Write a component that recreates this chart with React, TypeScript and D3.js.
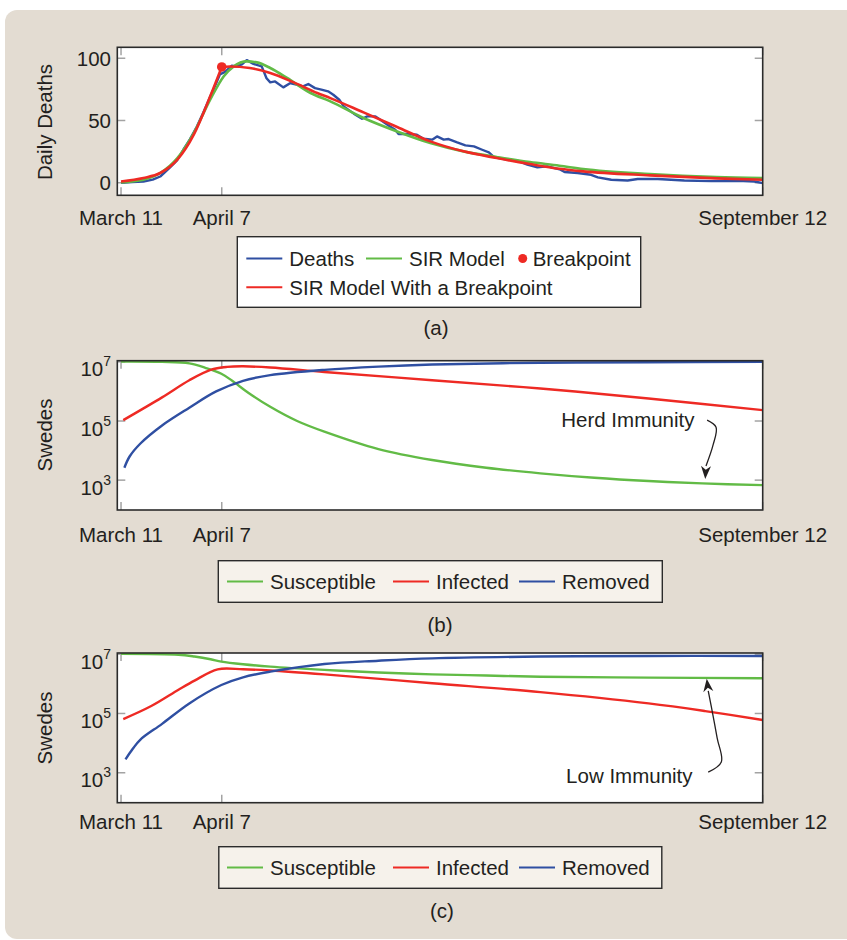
import React, { useEffect, useRef } from 'react';
import * as d3 from 'd3';

// x values are days since March 11
const tickDays = [0, 27, 172];
const tickLabels = ['March 11', 'April 7', 'September 12'];

// (a) daily deaths [day, deaths]
const deaths: [number, number][] = [
  [0, 0], [3, 0.5], [6, 1], [8.5, 2.5], [10.5, 5], [13, 12], [15, 18], [16.7, 26.5], [18.5, 35],
  [20.3, 45], [22, 56], [23.9, 69], [25.5, 80], [26.5, 87], [27.9, 89], [29.7, 94], [31, 93.5],
  [32.4, 95], [33.7, 98.5], [35.5, 95.5], [37.7, 93.5], [39, 84], [40, 80.6], [41.3, 81.4],
  [43.5, 76.6], [45.3, 80], [47, 78.8], [48.8, 77.4], [50.2, 79.3], [52, 76], [53.7, 74.8],
  [55.5, 73.4], [56.9, 70.7], [58.5, 66.7], [59.7, 61.3], [62.4, 55.5], [64.6, 51.4], [66, 53.3],
  [68.2, 53.3], [69.5, 50.6], [71.8, 45.8], [73.5, 42.6], [74.4, 39.1], [76.7, 39.1], [79.3, 38.6],
  [81.1, 35.4], [83.4, 34.6], [84.7, 37.2], [86.5, 34.6], [87.8, 35.1], [90.1, 32.4], [92.3, 30],
  [94.6, 29.2], [96.8, 26.5], [98.6, 24.4], [99.9, 20.7], [102.6, 19], [106.2, 17.7], [108.9, 14.5],
  [111.6, 12.3], [114.3, 13.1], [117.8, 10.5], [118.9, 8.6], [122.4, 7.8], [126, 6.4], [127.8, 4.3],
  [131.4, 2.4], [135.8, 1.8], [138.5, 3], [143.9, 3], [151, 1.8], [158.2, 1.3], [165.3, 1.6],
  [169.8, 1], [172, -0.3],
];
const sirModel: [number, number][] = [
  [0, 0.3], [6, 2.4], [10.5, 7.8], [15.1, 19.8], [19.5, 39.9], [23.9, 66.7], [27.5, 85.4],
  [30.2, 93.5], [33.7, 97.5], [36.4, 96.7], [40, 92.2], [44.5, 84.2], [50.8, 72.1], [56.1, 65.4],
  [65, 52], [74, 41.2], [82.9, 31.9], [91.8, 25.2], [100.7, 20.7], [109.6, 16.6], [117.5, 13.7],
  [123.9, 11], [141.8, 7], [159.6, 4.6], [172, 3.8],
];
const sirBreakBefore: [number, number][] = [
  [0, 1], [6, 3.8], [10.5, 7.8], [15.1, 18.5], [19.5, 38.6], [23.9, 69.4], [27, 93],
];
const sirBreakAfter: [number, number][] = [
  [27, 93], [29.2, 93.4], [34.5, 92.2], [40, 88.2], [46.3, 80.6], [52.6, 72.1], [56.1, 68],
  [65, 56.5], [74, 44.8], [82.9, 33.2], [91.8, 25.2], [100.7, 19.8], [109.6, 15], [117.5, 11.2],
  [123.9, 9.1], [141.8, 5.9], [159.6, 3.5], [172, 2.4],
];
const breakpoint: [number, number] = [27, 93];

// (b) herd immunity scenario, [day, log10(Swedes)]
const herdSusceptible: [number, number][] = [
  [0, 7.01], [11, 7.0], [18.3, 6.95], [22.6, 6.8], [26.9, 6.6], [29.8, 6.36], [34.2, 5.95],
  [40, 5.48], [47.2, 5.0], [54.5, 4.64], [69, 4.05], [83.4, 3.68], [97.9, 3.42], [112.4, 3.23],
  [126.9, 3.08], [141.4, 2.97], [155.8, 2.89], [172, 2.83],
];
const herdInfected: [number, number][] = [
  [0.6, 5.03], [11, 5.8], [18.3, 6.38], [24, 6.73], [28.4, 6.83], [32.7, 6.85], [40, 6.81],
  [54.5, 6.66], [83.4, 6.38], [112.4, 6.1], [141.4, 5.76], [172, 5.37],
];
const herdRemoved: [number, number][] = [
  [0.9, 3.42], [2.3, 3.8], [5.2, 4.24], [11, 4.85], [18.3, 5.45], [25.5, 6.0], [32.7, 6.36],
  [40, 6.55], [54.5, 6.73], [69, 6.84], [83.4, 6.91], [112.4, 6.97], [141.4, 6.99], [172, 7.0],
];

// (c) low immunity scenario, [day, log10(Swedes)]
const lowSusceptible: [number, number][] = [
  [0, 7.01], [15.4, 6.98], [19.7, 6.92], [24, 6.83], [26.9, 6.75], [32.7, 6.66], [40, 6.58],
  [54.5, 6.47], [69, 6.38], [83.4, 6.32], [97.9, 6.28], [112.4, 6.24], [141.4, 6.21], [172, 6.19],
];
const lowInfected: [number, number][] = [
  [0.6, 4.81], [8.1, 5.25], [15.4, 5.8], [19.7, 6.11], [25.9, 6.49], [32.7, 6.49], [40, 6.45],
  [54.5, 6.32], [83.4, 6.02], [112.4, 5.72], [141.4, 5.34], [156.6, 5.08], [172, 4.78],
];
const lowRemoved: [number, number][] = [
  [1.2, 3.45], [3.1, 3.8], [5.2, 4.12], [11, 4.65], [18.3, 5.34], [26.9, 5.96], [32.7, 6.22],
  [40, 6.41], [54.5, 6.67], [69, 6.78], [83.4, 6.86], [112.4, 6.92], [141.4, 6.94], [172, 6.94],
];

// annotations, [day, log10]
const herdArrow: [number, number][] = [[157.1, 5.03], [159.5, 4.79], [158.7, 4.19], [156.8, 3.48]];
const herdArrowTip: [number, number] = [156.6, 3.04];
const herdText: [number, number] = [118, 4.79];
const lowArrow: [number, number][] = [[157.4, 3.02], [160.9, 3.36], [159.8, 4.17], [158.2, 5.25], [157.4, 5.76]];
const lowArrowTip: [number, number] = [157, 6.17];
const lowText: [number, number] = [119.3, 2.64];

const BLUE = '#2f4fa2';
const GREEN = '#62bb46';
const RED = '#ee2a24';
const INK = '#231f20';
const FONT = '"Liberation Sans", Arial, Helvetica, sans-serif';
const FS = 20.5;

function App() {
  const ref = useRef<SVGSVGElement>(null);

  useEffect(() => {
    const svg = d3.select(ref.current);
    svg.selectAll('*').remove();

    // background card
    svg.append('rect').attr('x', 5).attr('y', 10).attr('width', 870).attr('height', 929)
      .attr('rx', 12).attr('fill', '#e3dcd2');

    const xScale = d3.scaleLinear().domain([-1, 172]).range([117.3, 762.7]);

    function frame(top: number, bottom: number, id: string) {
      const g = svg.append('g');
      g.append('rect').attr('x', 117.3).attr('y', top).attr('width', 762.7 - 117.3)
        .attr('height', bottom - top).attr('fill', '#fff');
      svg.append('clipPath').attr('id', id).append('rect')
        .attr('x', 117.3).attr('y', top).attr('width', 762.7 - 117.3).attr('height', bottom - top);
      return g;
    }

    function ticksAndBox(g: any, top: number, bottom: number, yPos: number[], xBaseline: number) {
      tickDays.forEach((d, i) => {
        const x = xScale(d);
        g.append('line').attr('x1', x).attr('x2', x).attr('y1', bottom).attr('y2', bottom - 8)
          .attr('stroke', '#a3a3a3').attr('stroke-width', 1.5);
        g.append('line').attr('x1', x).attr('x2', x).attr('y1', top).attr('y2', top + 8)
          .attr('stroke', '#a3a3a3').attr('stroke-width', 1.5);
        svg.append('text').attr('x', x).attr('y', xBaseline).attr('text-anchor', 'middle')
          .attr('font-family', FONT).attr('font-size', FS).attr('fill', INK).text(tickLabels[i]);
      });
      yPos.forEach(y => {
        g.append('line').attr('x1', 117.3).attr('x2', 125.3).attr('y1', y).attr('y2', y)
          .attr('stroke', '#a3a3a3').attr('stroke-width', 1.5);
        g.append('line').attr('x1', 762.7).attr('x2', 754.7).attr('y1', y).attr('y2', y)
          .attr('stroke', '#a3a3a3').attr('stroke-width', 1.5);
      });
    }

    function box(top: number, bottom: number) {
      svg.append('rect').attr('x', 117.3).attr('y', top).attr('width', 762.7 - 117.3)
        .attr('height', bottom - top).attr('fill', 'none').attr('stroke', '#2b2b2b').attr('stroke-width', 1.6);
    }

    function yTitle(text: string, cy: number) {
      svg.append('text').attr('transform', `translate(52,${cy}) rotate(-90)`).attr('text-anchor', 'middle')
        .attr('font-family', FONT).attr('font-size', FS).attr('fill', INK).text(text);
    }

    function caption(text: string, x: number, y: number) {
      svg.append('text').attr('x', x).attr('y', y).attr('text-anchor', 'middle')
        .attr('font-family', FONT).attr('font-size', FS).attr('fill', INK).text(text);
    }

    function legend(x: number, y: number, w: number, h: number, fill: string,
      items: { color: string; label: string; lx: number; ly: number; dot?: boolean }[]) {
      svg.append('rect').attr('x', x).attr('y', y).attr('width', w).attr('height', h)
        .attr('fill', fill).attr('stroke', '#2b2b2b').attr('stroke-width', 1.4);
      items.forEach(it => {
        if (it.dot) {
          svg.append('circle').attr('cx', it.lx - 10).attr('cy', it.ly).attr('r', 4.5).attr('fill', it.color);
        } else {
          svg.append('line').attr('x1', it.lx - 43).attr('x2', it.lx - 7).attr('y1', it.ly).attr('y2', it.ly)
            .attr('stroke', it.color).attr('stroke-width', 2);
        }
        svg.append('text').attr('x', it.lx).attr('y', it.ly + 7.5).attr('font-family', FONT)
          .attr('font-size', FS).attr('fill', INK).text(it.label);
      });
    }

    function arrow(pts: [number, number][], tip: [number, number], yScale: any) {
      const px = pts.map(p => [xScale(p[0]), yScale(10 ** p[1])] as [number, number]);
      svg.append('path').attr('d', d3.line().curve(d3.curveCatmullRom)(px))
        .attr('fill', 'none').attr('stroke', INK).attr('stroke-width', 1.3);
      const b = px[px.length - 1];
      const t = [xScale(tip[0]), yScale(10 ** tip[1])];
      const dx = t[0] - b[0], dy = t[1] - b[1];
      const len = Math.hypot(dx, dy);
      const ux = dx / len, uy = dy / len, nx = -uy, ny = ux;
      const L = 13, wdt = 5;
      const pts2 = [
        [t[0], t[1]],
        [t[0] - ux * L + nx * wdt, t[1] - uy * L + ny * wdt],
        [t[0] - ux * L * 0.7, t[1] - uy * L * 0.7],
        [t[0] - ux * L - nx * wdt, t[1] - uy * L - ny * wdt],
      ];
      svg.append('path').attr('d', 'M' + pts2.map(p => p.join(',')).join('L') + 'Z').attr('fill', INK);
    }

    // ---------- (a) ----------
    const aTop = 47.3, aBottom = 195.3;
    const yA = d3.scaleLinear().domain([-10.1, 108.8]).range([aBottom, aTop]);
    const gA = frame(aTop, aBottom, 'clipA');
    ticksAndBox(gA, aTop, aBottom, [0, 50, 100].map(v => yA(v)), 225);
    [0, 50, 100].forEach(v => {
      svg.append('text').attr('x', 111).attr('y', yA(v) + 7.3).attr('text-anchor', 'end')
        .attr('font-family', FONT).attr('font-size', FS).attr('fill', INK).text(v);
    });
    const lineA = d3.line<[number, number]>().x(d => xScale(d[0])).y(d => yA(d[1]));
    const plotA = svg.append('g').attr('clip-path', 'url(#clipA)');
    plotA.append('path').attr('d', lineA(deaths)).attr('fill', 'none').attr('stroke', BLUE).attr('stroke-width', 2.4)
      .attr('stroke-linejoin', 'round');
    plotA.append('path').attr('d', lineA.curve(d3.curveMonotoneX)(sirModel)).attr('fill', 'none')
      .attr('stroke', GREEN).attr('stroke-width', 2.6);
    plotA.append('path').attr('d', lineA.curve(d3.curveMonotoneX)(sirBreakBefore)).attr('fill', 'none')
      .attr('stroke', RED).attr('stroke-width', 2.6);
    plotA.append('path').attr('d', lineA.curve(d3.curveMonotoneX)(sirBreakAfter)).attr('fill', 'none')
      .attr('stroke', RED).attr('stroke-width', 2.6);
    plotA.append('circle').attr('cx', xScale(breakpoint[0])).attr('cy', yA(breakpoint[1])).attr('r', 4.8).attr('fill', RED);
    box(aTop, aBottom);
    yTitle('Daily Deaths', 122);
    legend(237.3, 236.7, 403.4, 70.6, '#fff', [
      { color: BLUE, label: 'Deaths', lx: 289.3, ly: 258.5 },
      { color: GREEN, label: 'SIR Model', lx: 409, ly: 258.5 },
      { color: RED, label: 'Breakpoint', lx: 532.7, ly: 258.5, dot: true },
      { color: RED, label: 'SIR Model With a Breakpoint', lx: 289.3, ly: 287.3 },
    ]);
    caption('(a)', 436, 335);

    // ---------- (b) and (c) ----------
    function logPanel(top: number, bottom: number, id: string, xBaseline: number, titleY: number,
      S: [number, number][], I: [number, number][], R: [number, number][]) {
      const y = d3.scaleLog().domain([10 ** 1.99, 10 ** 7.04]).range([bottom, top]);
      const g = frame(top, bottom, id);
      const exps = [3, 5, 7];
      ticksAndBox(g, top, bottom, exps.map(e => y(10 ** e)), xBaseline);
      exps.forEach(e => {
        const t = svg.append('text').attr('x', 111).attr('y', y(10 ** e) + 14.5).attr('text-anchor', 'end')
          .attr('font-family', FONT).attr('font-size', FS).attr('fill', INK);
        t.append('tspan').text('10');
        t.append('tspan').attr('dy', -10).attr('font-size', 14).text(e);
      });
      const line = d3.line<[number, number]>().x(d => xScale(d[0])).y(d => y(10 ** d[1]))
        .curve(d3.curveCatmullRom.alpha(0.5));
      const plot = svg.append('g').attr('clip-path', `url(#${id})`);
      plot.append('path').attr('d', line(S)).attr('fill', 'none').attr('stroke', GREEN).attr('stroke-width', 2.4);
      plot.append('path').attr('d', line(I)).attr('fill', 'none').attr('stroke', RED).attr('stroke-width', 2.4);
      plot.append('path').attr('d', line(R)).attr('fill', 'none').attr('stroke', BLUE).attr('stroke-width', 2.4);
      box(top, bottom);
      yTitle('Swedes', titleY);
      return y;
    }

    const yB = logPanel(360.7, 510, 'clipB', 542, 435, herdSusceptible, herdInfected, herdRemoved);
    svg.append('text').attr('x', xScale(herdText[0])).attr('y', yB(10 ** herdText[1])).attr('font-family', FONT)
      .attr('font-size', FS).attr('fill', INK).text('Herd Immunity');
    arrow(herdArrow, herdArrowTip, yB);
    legend(218.3, 560.7, 444, 41.6, '#f6f2eb', [
      { color: GREEN, label: 'Susceptible', lx: 270, ly: 581.5 },
      { color: RED, label: 'Infected', lx: 436, ly: 581.5 },
      { color: BLUE, label: 'Removed', lx: 562, ly: 581.5 },
    ]);
    caption('(b)', 440, 632);

    const yC = logPanel(653, 802.7, 'clipC', 828.5, 728, lowSusceptible, lowInfected, lowRemoved);
    svg.append('text').attr('x', xScale(lowText[0])).attr('y', yC(10 ** lowText[1])).attr('font-family', FONT)
      .attr('font-size', FS).attr('fill', INK).text('Low Immunity');
    arrow(lowArrow, lowArrowTip, yC);
    legend(218.8, 846.7, 443, 41.6, '#f6f2eb', [
      { color: GREEN, label: 'Susceptible', lx: 270, ly: 867.5 },
      { color: RED, label: 'Infected', lx: 436, ly: 867.5 },
      { color: BLUE, label: 'Removed', lx: 562, ly: 867.5 },
    ]);
    caption('(c)', 442, 918);
  }, []);

  return (
    <svg ref={ref} width={847} height={940}
      style={{ position: 'absolute', left: 0, top: 0, background: '#fff' }} />
  );
}

export default App;
